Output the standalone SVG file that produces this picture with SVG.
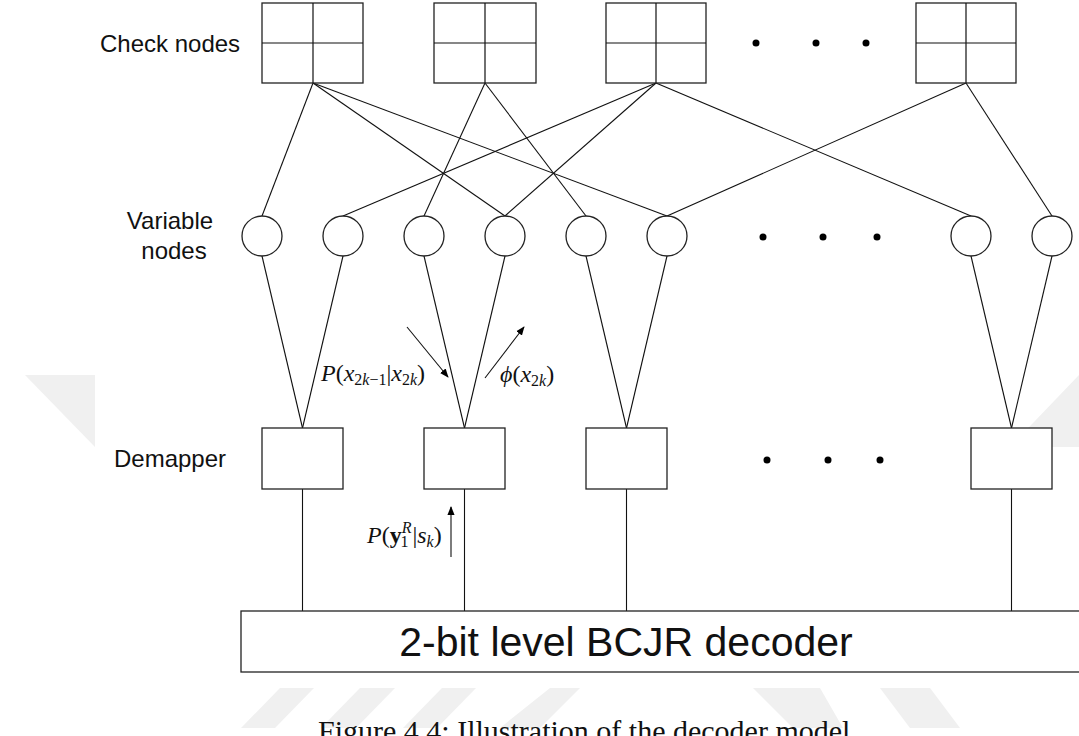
<svg xmlns="http://www.w3.org/2000/svg" width="1079" height="736" viewBox="0 0 1079 736">
  <style>
    .box { fill: #fff; stroke: #222; stroke-width: 1.3; }
    .grid { stroke: #111; stroke-width: 1.2; fill: none; }
    .edge { stroke: #111; stroke-width: 1.1; fill: none; }
    .lbl { font-family: "Liberation Sans", Arial, sans-serif; font-size: 24px; fill: #111; }
    .big { font-family: "Liberation Sans", Arial, sans-serif; font-size: 41px; fill: #111; }
    .math { font-family: "Liberation Serif", "Times New Roman", serif; font-size: 24px; fill: #111; }
    .sub { font-size: 16px; }
    .it { font-style: italic; }
    .cap { font-family: "Liberation Serif", "Times New Roman", serif; font-size: 30px; fill: #111; }
    .wm { fill: #f0f0f0; }
    .dot { fill: #000; }
  </style>
  <defs>
    <marker id="arr" viewBox="0 0 10 10" refX="9" refY="5" markerWidth="9" markerHeight="9" markerUnits="userSpaceOnUse" orient="auto">
      <path d="M0,1 L10,5 L0,9 z" fill="#000"/>
    </marker>
  </defs>

  <!-- faint background marks -->
  <g id="watermark">
    <polygon class="wm" points="25,375 95,375 95,447"/>
    <polygon class="wm" points="1079,375 1079,447 1010,447"/>
    <polygon class="wm" points="280,688 314,688 275,728 241,728"/>
    <polygon class="wm" points="360,688 395,688 356,728 321,728"/>
    <polygon class="wm" points="442,688 476,688 437,728 403,728"/>
    <polygon class="wm" points="550,688 580,688 540,728 500,728"/>
    <polygon class="wm" points="753,688 820,688 843,728 793,728"/>
    <polygon class="wm" points="880,688 930,688 960,728 910,728"/>
  </g>

  <!-- row labels -->
  <g id="labels">
    <text class="lbl" x="100" y="52">Check nodes</text>
    <text class="lbl" x="170" y="229" text-anchor="middle">Variable</text>
    <text class="lbl" x="174" y="259" text-anchor="middle">nodes</text>
    <text class="lbl" x="114" y="467">Demapper</text>
  </g>

  <!-- Tanner graph and demapper connections -->
  <g id="connectors">
    <!-- check to variable -->
    <line class="edge" x1="313" y1="83" x2="262" y2="216"/>
    <line class="edge" x1="313" y1="83" x2="505" y2="216"/>
    <line class="edge" x1="313" y1="83" x2="667" y2="216"/>
    <line class="edge" x1="485" y1="83" x2="424" y2="216"/>
    <line class="edge" x1="485" y1="83" x2="586" y2="216"/>
    <line class="edge" x1="656" y1="83" x2="343" y2="216"/>
    <line class="edge" x1="656" y1="83" x2="505" y2="216"/>
    <line class="edge" x1="656" y1="83" x2="971" y2="216"/>
    <line class="edge" x1="966" y1="83" x2="667" y2="216"/>
    <line class="edge" x1="966" y1="83" x2="1052" y2="216"/>
    <!-- variable to demapper -->
    <line class="edge" x1="262" y1="256" x2="302.5" y2="428"/>
    <line class="edge" x1="343" y1="256" x2="302.5" y2="428"/>
    <line class="edge" x1="424" y1="256" x2="464.5" y2="428"/>
    <line class="edge" x1="505" y1="256" x2="464.5" y2="428"/>
    <line class="edge" x1="586" y1="256" x2="626.5" y2="428"/>
    <line class="edge" x1="667" y1="256" x2="626.5" y2="428"/>
    <line class="edge" x1="971" y1="256" x2="1011.5" y2="428"/>
    <line class="edge" x1="1052" y1="256" x2="1011.5" y2="428"/>
    <!-- demapper to decoder -->
    <line class="edge" x1="302.5" y1="489" x2="302.5" y2="611"/>
    <line class="edge" x1="464.5" y1="489" x2="464.5" y2="611"/>
    <line class="edge" x1="626.5" y1="489" x2="626.5" y2="611"/>
    <line class="edge" x1="1011.5" y1="489" x2="1011.5" y2="611"/>
    <!-- message arrows -->
    <line class="edge" x1="407" y1="327" x2="448" y2="377" marker-end="url(#arr)"/>
    <line class="edge" x1="485" y1="378" x2="524" y2="327" marker-end="url(#arr)"/>
    <line class="edge" x1="451" y1="557" x2="451" y2="507" marker-end="url(#arr)"/>
  </g>

  <!-- check nodes -->
  <g id="check1">
    <rect class="box" x="262" y="3" width="101" height="80"/>
    <path class="grid" d="M313,3 V83 M262,43 H363"/>
  </g>
  <g id="check2">
    <rect class="box" x="434" y="3" width="102" height="80"/>
    <path class="grid" d="M485,3 V83 M434,43 H536"/>
  </g>
  <g id="check3">
    <rect class="box" x="606" y="3" width="100" height="80"/>
    <path class="grid" d="M656,3 V83 M606,43 H706"/>
  </g>
  <g id="check-dots">
    <circle class="dot" cx="756" cy="43" r="3.5"/>
    <circle class="dot" cx="816" cy="43" r="3.5"/>
    <circle class="dot" cx="866" cy="43" r="3.5"/>
  </g>
  <g id="check4">
    <rect class="box" x="916" y="3" width="100" height="80"/>
    <path class="grid" d="M966,3 V83 M916,43 H1016"/>
  </g>

  <!-- variable nodes -->
  <g id="var1"><circle class="box" cx="262" cy="236" r="20"/></g>
  <g id="var2"><circle class="box" cx="343" cy="236" r="20"/></g>
  <g id="var3"><circle class="box" cx="424" cy="236" r="20"/></g>
  <g id="var4"><circle class="box" cx="505" cy="236" r="20"/></g>
  <g id="var5"><circle class="box" cx="586" cy="236" r="20"/></g>
  <g id="var6"><circle class="box" cx="667" cy="236" r="20"/></g>
  <g id="var-dots">
    <circle class="dot" cx="763" cy="237" r="3.5"/>
    <circle class="dot" cx="823" cy="237" r="3.5"/>
    <circle class="dot" cx="877" cy="237" r="3.5"/>
  </g>
  <g id="var7"><circle class="box" cx="971" cy="236" r="20"/></g>
  <g id="var8"><circle class="box" cx="1052" cy="236" r="20"/></g>

  <!-- demappers -->
  <g id="demap1"><rect class="box" x="262" y="428" width="81" height="61"/></g>
  <g id="demap2"><rect class="box" x="424" y="428" width="81" height="61"/></g>
  <g id="demap3"><rect class="box" x="586" y="428" width="81" height="61"/></g>
  <g id="demap-dots">
    <circle class="dot" cx="767" cy="460" r="3.5"/>
    <circle class="dot" cx="828" cy="460" r="3.5"/>
    <circle class="dot" cx="880" cy="460" r="3.5"/>
  </g>
  <g id="demap4"><rect class="box" x="971" y="428" width="81" height="61"/></g>

  <!-- decoder -->
  <g id="decoder">
    <rect class="box" x="241" y="611" width="860" height="61"/>
    <text class="big" x="626" y="656" text-anchor="middle">2-bit level BCJR decoder</text>
  </g>

  <!-- message labels -->
  <g id="messages">
    <text class="math" x="321" y="381"><tspan class="it">P</tspan>(<tspan class="it">x</tspan><tspan class="sub" dy="4">2<tspan class="it">k</tspan>−1</tspan><tspan dy="-4">|</tspan><tspan class="it">x</tspan><tspan class="sub" dy="4">2<tspan class="it">k</tspan></tspan><tspan dy="-4">)</tspan></text>
    <text class="math" x="500" y="382"><tspan class="it">ϕ</tspan>(<tspan class="it">x</tspan><tspan class="sub" dy="4">2<tspan class="it">k</tspan></tspan><tspan dy="-4">)</tspan></text>
    <text class="math" x="367" y="543"><tspan class="it">P</tspan>(<tspan font-weight="bold">y</tspan><tspan class="sub it" dy="-10">R</tspan><tspan class="sub" dx="-11" dy="14">1</tspan><tspan dx="4" dy="-4">|</tspan><tspan class="it">s</tspan><tspan class="sub it" dy="4">k</tspan><tspan dy="-4">)</tspan></text>
  </g>

  <!-- caption -->
  <text class="cap" x="318" y="741">Figure 4.4: Illustration of the decoder model</text>
</svg>
